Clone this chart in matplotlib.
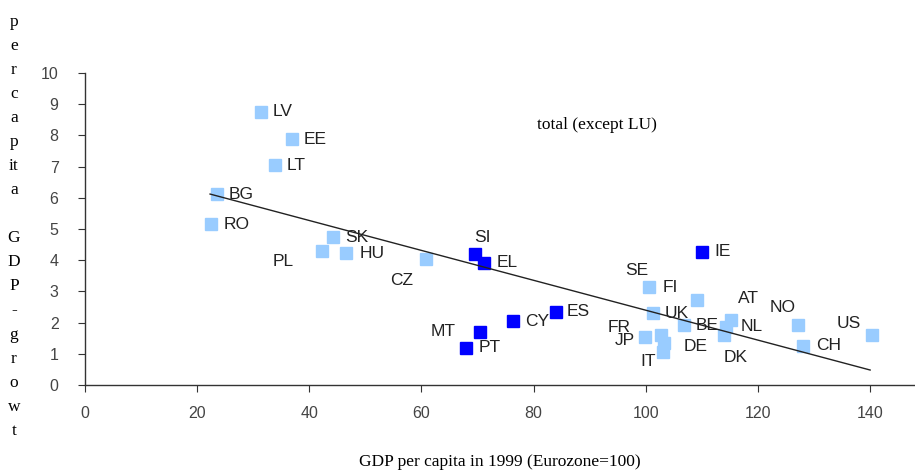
import numpy as np
import matplotlib
matplotlib.use("Agg")
import matplotlib.pyplot as plt

# GDP per capita 1999 (Eurozone=100) vs per capita GDP growth
countries = ["LV", "EE", "LT", "BG", "RO", "SK", "PL", "HU", "CZ",
             "SI", "EL", "ES", "CY", "MT", "PT", "IE",
             "SE", "FI", "UK", "FR", "JP", "DE", "IT", "BE", "AT", "NL",
             "DK", "NO", "CH", "US"]
gdp99 = [31.3, 36.9, 33.8, 23.5, 22.4, 44.2, 42.2, 46.6, 60.8,
         69.6, 71.1, 83.9, 76.4, 70.5, 68.0, 110.0,
         109.1, 100.6, 101.2, 102.7, 99.8, 103.2, 103.0, 106.8, 115.2, 114.3,
         113.9, 127.1, 128.0, 140.4]
growth = [8.75, 7.88, 7.04, 6.11, 5.15, 4.74, 4.29, 4.24, 4.04,
          4.19, 3.92, 2.35, 2.05, 1.69, 1.20, 4.27,
          2.72, 3.13, 2.30, 1.60, 1.54, 1.35, 1.06, 1.92, 2.08, 1.86,
          1.60, 1.92, 1.25, 1.60]
euro = ["SI", "EL", "ES", "CY", "MT", "PT", "IE"]

# trend line end points
trend_x = [22.3, 140.0]
trend_y = [6.12, 0.48]

# label placement (offset in pixels from marker, alignment)
lab_pos = {
    "LV": (12, 0, "left"), "EE": (12, 0, "left"), "LT": (12, 0, "left"),
    "BG": (12, 0, "left"), "RO": (13, 0, "left"), "SK": (12, 0, "left"),
    "PL": (-38, -10, "center"), "HU": (13, -1, "left"), "CZ": (-24, -22, "center"),
    "SI": (7, 17, "center"), "EL": (13, 0, "left"), "ES": (11, 0, "left"),
    "CY": (12, 0, "left"), "MT": (-37, 1, "center"), "PT": (12, 0, "left"),
    "IE": (12, 0, "left"), "SE": (-60, 30, "center"), "FI": (13, 0, "left"),
    "UK": (12, 0, "left"), "FR": (-42, 8, "center"), "JP": (-20, -4, "center"),
    "DE": (32, -4, "center"), "IT": (-15, -10, "center"), "BE": (12, 0, "left"),
    "AT": (17, 22, "center"), "NL": (15, 0, "left"), "DK": (12, -22, "center"),
    "NO": (-15, 18, "center"), "CH": (13, 0, "left"), "US": (-24, 12, "center"),
}

light = "#99CCFF"
dark = "#0000FF"

fig = plt.figure(figsize=(9.15, 4.74), dpi=100)
ax = fig.add_axes([85 / 915, 1 - 385 / 474, 1 - 85 / 915, 312 / 474])

ax.plot(trend_x, trend_y, color="#222222", lw=1.0, zorder=3)

for c, x, y in zip(countries, gdp99, growth):
    col = dark if c in euro else light
    ax.plot(x, y, marker="s", ms=9.2, color=col, mec=col, ls="none", zorder=2)
    dx, dy, ha = lab_pos[c]
    ax.annotate(c, (x, y), xytext=(dx * 0.72, dy * 0.72), textcoords="offset points",
                ha=ha, va="center", fontsize=12.5, color="#222222",
                family="Liberation Sans", zorder=4)

ax.set_xlim(0, 148)
ax.set_ylim(0, 10)
ax.set_xticks(range(0, 141, 20))
ax.set_yticks(range(0, 11))
for s in ["top", "right"]:
    ax.spines[s].set_visible(False)
for s in ["left", "bottom"]:
    ax.spines[s].set_color("#333333")
    ax.spines[s].set_linewidth(1.0)
ax.tick_params(axis="x", length=5, pad=10, labelsize=11.5, labelcolor="#444444", color="#333333")
ax.tick_params(axis="y", length=5, pad=14, labelsize=11.5, labelcolor="#444444", color="#333333")
for t in ax.get_xticklabels() + ax.get_yticklabels():
    t.set_family("Liberation Sans")

ax.text(0.617, 0.833, "total (except LU)", transform=ax.transAxes, ha="center",
        va="center", fontsize=12.5, family="Liberation Serif")

fig.text(500 / 915, 1 - 462 / 474, "GDP per capita in 1999 (Eurozone=100)",
         ha="center", va="center", fontsize=12.5, family="Liberation Serif")

ylab = "p\ne\nr\nc\na\np\nit\na\n \nG\nD\nP\n-\ng\nr\no\nw\nt"
fig.text(14 / 915, 1 - 14 / 474, ylab, ha="center", va="top", fontsize=12.5,
         linespacing=1.67, family="Liberation Serif")

fig.savefig("out.png", dpi=100)
